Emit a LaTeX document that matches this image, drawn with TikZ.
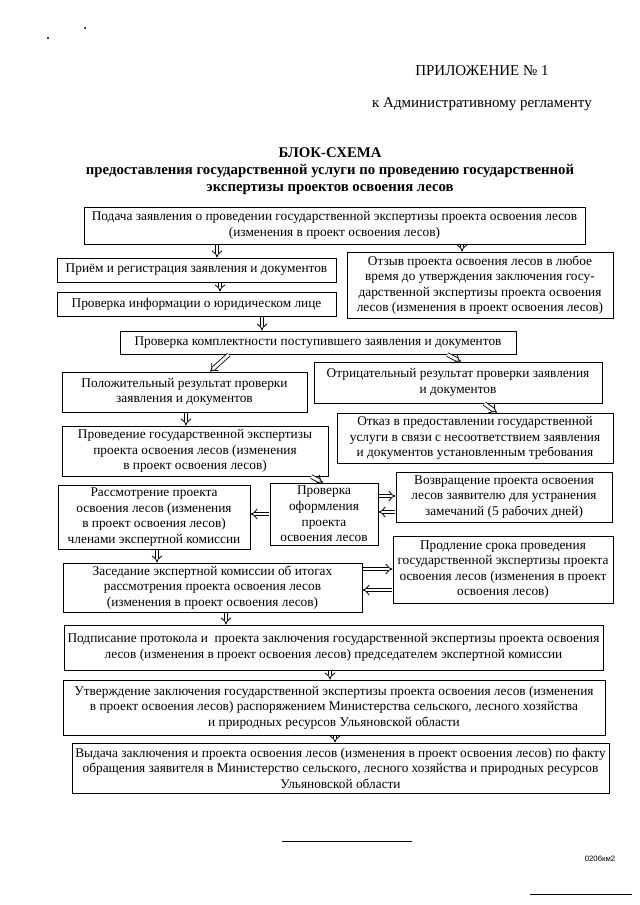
\documentclass[tikz,border=0pt]{standalone}
\usepackage{fontspec}
\setmainfont{Liberation Serif}
\newfontfamily\marksans{Liberation Sans}
\usetikzlibrary{arrows.meta}
\newcommand{\pxu}{0.9pt}

\begin{document}
\begin{tikzpicture}[
  x=0.9pt, y=-0.9pt,
  every node/.style={font=\fontsize{12}{14}\selectfont},
  box/.style={rectangle, draw=black, line width=0.7pt, align=center, inner sep=0pt},
  bsize/.style 2 args={minimum width=#1*\pxu, minimum height=#2*\pxu},
  toptext/.style={font=\fontsize{13.5}{15}\selectfont},
  heading/.style={align=center, font=\fontsize{13.3}{15.5}\selectfont\bfseries},
  speck/.style={circle, fill=black, minimum size=2.2pt, inner sep=0pt},
  flow/.style={double, double distance=2.6pt, line width=0.75pt, shorten <=0.4pt, -{Implies}},
]
\useasboundingbox (0,0) rectangle (640,905);

% ---- specks and header ----
\node[speck] (dotA) at (48, 38) {};
\node[speck] (dotB) at (85, 28) {};
\node[toptext] (appendix) at (482, 71) {ПРИЛОЖЕНИЕ №~1};
\node[toptext] (regl) at (482, 104) {к Административному регламенту};
\node[heading] (heading) at (330, 171) {БЛОК-СХЕМА\\
  предоставления государственной услуги по проведению государственной\\
  экспертизы проектов освоения лесов};

% ---- steps (boxes) ----
\node[box, bsize={501}{37}] (podacha) at (334.5, 225.5) {Подача заявления о проведении государственной экспертизы проекта освоения лесов\\ (изменения в проект освоения лесов)};
\node[box, bsize={279}{24}] (priem) at (196.5, 270) {Приём и регистрация заявления и документов};
\node[box, bsize={266}{66}] (otzyv) at (480, 285) {Отзыв проекта освоения лесов в любое\\ время до утверждения заключения госу-\\ дарственной экспертизы проекта освоения\\ лесов (изменения в проект освоения лесов)};
\node[box, bsize={279}{24}] (yurlico) at (196.5, 304) {Проверка информации о юридическом лице};
\node[box, bsize={396}{23}] (komplekt) at (318, 342.5) {Проверка комплектности поступившего заявления и документов};
\node[box, bsize={245}{40}] (polozh) at (184.5, 392) {Положительный результат проверки\\ заявления и документов};
\node[box, bsize={288}{41}] (otric) at (458, 382.5) {Отрицательный результат проверки заявления\\ и документов};
\node[box, bsize={276}{50}] (otkaz) at (475, 438) {Отказ в предоставлении государственной\\ услуги в связи с несоответствием заявления\\ и документов установленным требования};
\node[box, bsize={266}{50}] (ekspert) at (195, 451) {Проведение государственной экспертизы\\ проекта освоения лесов (изменения\\ в проект освоения лесов)};
\node[box, bsize={108}{62}] (proverka) at (324, 514) {Проверка\\ оформления\\ проекта\\ освоения лесов};
\node[box, bsize={192}{64}] (rassmotr) at (154, 517) {Рассмотрение проекта\\ освоения лесов (изменения\\ в проект освоения лесов)\\ членами экспертной комиссии};
\node[box, bsize={216}{50}] (vozvrat) at (504, 497) {Возвращение проекта освоения\\ лесов заявителю для устранения\\ замечаний (5 рабочих дней)};
\node[box, bsize={299}{49}] (zased) at (212.5, 587.5) {Заседание экспертной комиссии об итогах\\ рассмотрения проекта освоения лесов\\ (изменения в проект освоения лесов)};
\node[box, bsize={220}{67}] (prodl) at (503, 569.5) {Продление срока проведения\\ государственной экспертизы проекта\\ освоения лесов (изменения в проект\\ освоения лесов)};
\node[box, bsize={539}{45}] (podpis) at (333.5, 647.5) {Подписание протокола и\ \ проекта заключения государственной экспертизы проекта освоения\\ лесов (изменения в проект освоения лесов) председателем экспертной комиссии};
\node[box, bsize={542}{55}] (utverzh) at (334, 707.5) {Утверждение заключения государственной экспертизы проекта освоения лесов (изменения\\ в проект освоения лесов) распоряжением Министерства сельского, лесного хозяйства\\ и природных ресурсов Ульяновской области};
\node[box, bsize={537}{50}] (vydacha) at (340.5, 768) {Выдача заключения и проекта освоения лесов (изменения в проект освоения лесов) по факту\\ обращения заявителя в Министерство сельского, лесного хозяйства и природных ресурсов\\ Ульяновской области};

% ---- footer ----
\node[font=\fontsize{7}{8}\selectfont\marksans] (code) at (600, 859) {0206км2};
\draw[line width=0.7pt] (282, 841) -- (412, 841);
\draw[line width=0.7pt] (530, 894) -- (632, 894);

% ---- arrows ----
\draw[flow] ([xshift=20.5*\pxu]priem.north |- podacha.south) -- ([xshift=20.5*\pxu]priem.north);
\draw[flow] ([xshift=-18*\pxu]otzyv.north |- podacha.south) -- ([xshift=-18*\pxu]otzyv.north);
\draw[flow] ([xshift=23.5*\pxu]priem.south) -- ([xshift=23.5*\pxu]yurlico.north);
\draw[flow] ([xshift=-56*\pxu]komplekt.north |- yurlico.south) -- ([xshift=-56*\pxu]komplekt.north);
\draw[flow] ([xshift=-89*\pxu]komplekt.south) -- ([xshift=25.5*\pxu]polozh.north);
\draw[flow] ([xshift=129*\pxu]komplekt.south) -- ([xshift=3*\pxu]otric.north);
\draw[flow] ([xshift=26*\pxu]otric.south) -- ([xshift=22*\pxu]otkaz.north);
\draw[flow] ([xshift=-9*\pxu]ekspert.north |- polozh.south) -- ([xshift=-9*\pxu]ekspert.north);
\draw[flow] ([xshift=116*\pxu]ekspert.south) -- ([xshift=-1*\pxu]proverka.north);
\draw[flow] (proverka.west) -- (rassmotr.east |- proverka.west);
\draw[flow] ([yshift=18*\pxu]proverka.east) -- ([yshift=18*\pxu]vozvrat.west |- proverka.east);
\draw[flow] ([yshift=2*\pxu]vozvrat.west |- proverka.east) -- ([yshift=2*\pxu]proverka.east);
\draw[flow] ([xshift=3*\pxu]rassmotr.south) -- ([xshift=3*\pxu]rassmotr.south |- zased.north);
\draw[flow] ([yshift=18.5*\pxu]zased.east) -- ([yshift=18.5*\pxu]prodl.west |- zased.east);
\draw[flow] ([yshift=-2.5*\pxu]prodl.west |- zased.east) -- ([yshift=-2.5*\pxu]zased.east);
\draw[flow] ([xshift=13.5*\pxu]zased.south) -- ([xshift=13.5*\pxu]zased.south |- podpis.north);
\draw[flow] ([xshift=-3.5*\pxu]podpis.south) -- ([xshift=-3.5*\pxu]podpis.south |- utverzh.north);
\draw[flow] ([xshift=1*\pxu]utverzh.south) -- ([xshift=1*\pxu]utverzh.south |- vydacha.north);

\end{tikzpicture}
\end{document}
